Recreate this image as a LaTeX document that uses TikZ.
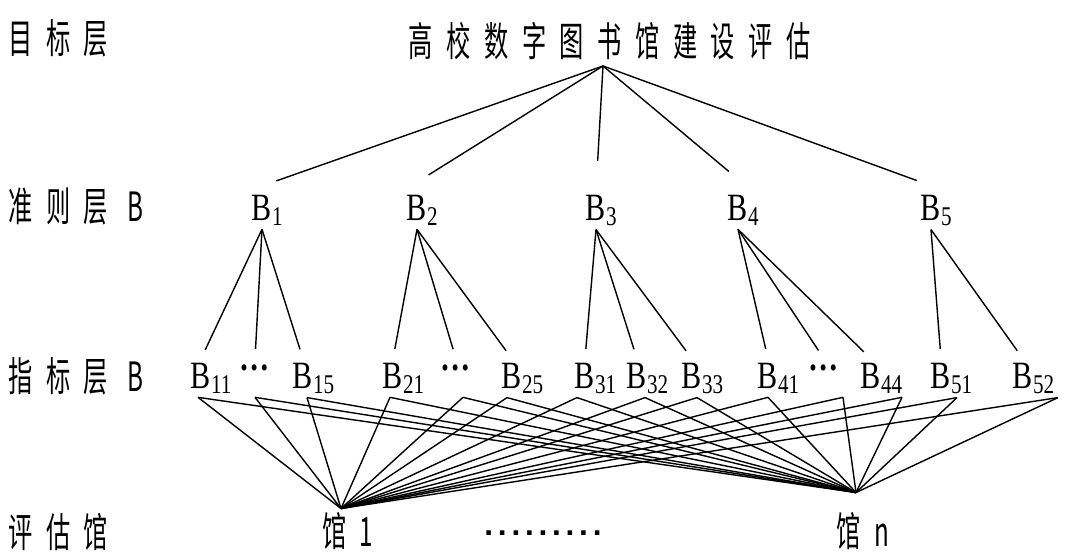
\documentclass[tikz,border=0pt]{standalone}
\usepackage{fontspec}
\setmainfont{Liberation Serif}[FakeStretch=0.78]
\newfontfamily\cjk{Noto Sans CJK SC}[FakeStretch=0.6, LetterSpace=33.5]
\newfontfamily\puntos{Liberation Sans}[LetterSpace=15]
\newcommand{\recorte}{\kern-7.7pt}
\usetikzlibrary{calc}
\tikzset{
  capa/.style={anchor=west, inner sep=0pt, font=\cjk\fontsize{23}{23}\selectfont},
  crit/.style={anchor=base, inner sep=2pt, font=\fontsize{22}{26}\selectfont},
  guan/.style={anchor=base, inner sep=0pt, font=\cjk\fontsize{23}{23}\selectfont},
  rama/.style={line width=0.8pt},
}

\begin{document}
\begin{tikzpicture}[x=0.02cm, y=-0.02cm]
  \useasboundingbox (0,0) rectangle (1065,554);
  \node[capa] (lmeta) at (8,38) {目标层};
  \node[capa] (lcrit) at (8,206) {准则层 B};
  \node[capa] (lind) at (8,376) {指标层 B};
  \node[capa] (lguan) at (8,532) {评估馆};
  \node[guan, inner sep=3pt] (meta) at (603,57) {高校数字图书馆建设评估\recorte};

  \foreach \n/\x/\s in {b1/262/1, b2/417/2, b3/596/3, b4/738/4, b5/931/5}
    \node[crit] (\n) at (\x,220) {B\rlap{\textsubscript{\s}}};
  \foreach \n/\x/\s in {b11/201/11, b15/303/15, b21/393/21, b25/512/25, b31/585/31, b32/637/32,
                        b33/692/33, b41/768/41, b44/871/44, b51/941/51, b52/1023/52}
    \node[crit] (\n) at (\x,388) {B\rlap{\textsubscript{\s}}};
  \foreach \n/\x in {d1/255, d2/456, d4/824}
    \node[crit] (\n) at (\x,388) {\vphantom{B\textsubscript{1}}\raisebox{0.45em}{\textbf{…}}};

  \node[guan] (g1) at (341,546) {馆1\recorte};
  \node[guan] (gn) at (856,546) {馆n\recorte};
  \node[inner sep=0pt, font=\puntos\bfseries\fontsize{18}{18}\selectfont] (dots) at (543,533) {.........};

  \foreach \n/\a in {b1/north west, b2/north west, b3/north, b4/north east, b5/north east}
    \draw[rama, shorten >=0.6cm] (meta.south) -- (\n.\a);

  \foreach \p/\c in {b1/b11, b1/d1, b1/b15, b2/b21, b2/d2, b2/b25, b3/b31, b3/b32, b3/b33,
                     b4/b41, b4/d4, b4/b44, b5/b51, b5/b52}
    \draw[rama, shorten >=0.2cm] (\p.south) -- (\c.north);

  \foreach \n/\dx in {b11/-3, d1/0, b15/4, b21/-3, d2/7, b25/-5, b31/-8, b32/8, b33/5,
                      b41/0, d4/19, b44/31, b51/16, b52/35} {
    \draw[rama] ($(\n.south)+(\dx,0)$) -- ([yshift=0.06cm]g1.north);
    \draw[rama] ($(\n.south)+(\dx,0)$) -- ([yshift=0.38cm]gn.north);
  }
\end{tikzpicture}
\end{document}
